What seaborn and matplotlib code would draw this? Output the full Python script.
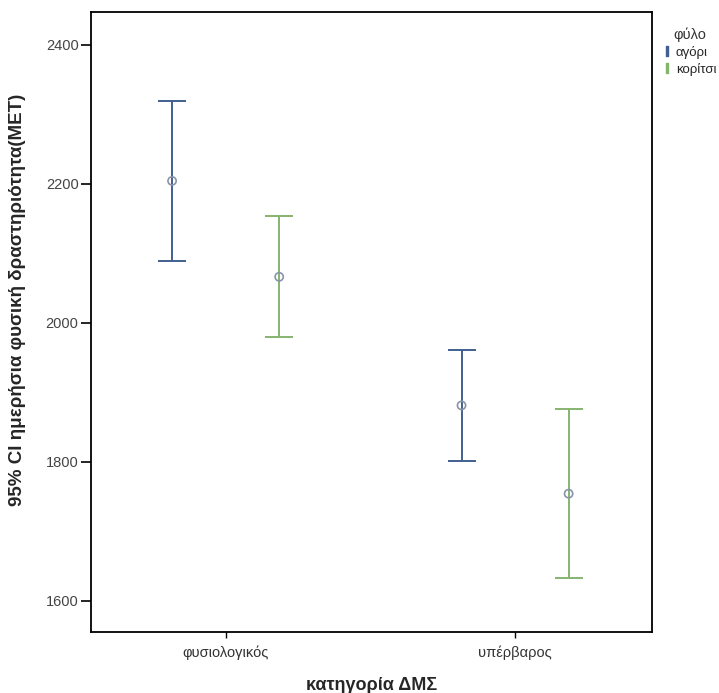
import numpy as np
import pandas as pd
import matplotlib
matplotlib.use("Agg")
import matplotlib.pyplot as plt
from matplotlib.lines import Line2D
import seaborn as sns

# values
categories = ["φυσιολογικός", "υπέρβαρος"]
genders = ["αγόρι", "κορίτσι"]
mean_boy = [2204, 1881]
lower_boy = [2089, 1801]
upper_boy = [2319, 1961]
mean_girl = [2066, 1754]
lower_girl = [1980, 1633]
upper_girl = [2153, 1876]

colors = {"αγόρι": "#41608f", "κορίτσι": "#86b46f"}

sns.set_style("white")
plt.rcParams["font.family"] = ["Liberation Sans", "DejaVu Sans"]

df = pd.DataFrame({
    "cat": categories * 2,
    "sex": [genders[0]] * 2 + [genders[1]] * 2,
    "mean": mean_boy + mean_girl,
    "lo": lower_boy + lower_girl,
    "hi": upper_boy + upper_girl,
})

fig = plt.figure(figsize=(7.19, 6.93), dpi=100)
ax = fig.add_axes([0.1266, 0.088, 0.7802, 0.8947])

offsets = {"αγόρι": -0.185, "κορίτσι": 0.185}
for sex in genders:
    sub = df[df["sex"] == sex]
    x = np.arange(len(categories)) + offsets[sex]
    ax.errorbar(x, sub["mean"], yerr=[sub["mean"] - sub["lo"], sub["hi"] - sub["mean"]],
                fmt="none", ecolor=colors[sex], elinewidth=1.4, capsize=10, capthick=1.4)
    sns.scatterplot(x=x, y=sub["mean"].values, ax=ax, s=35, marker="o",
                    facecolor="none", edgecolor="#8a94a8", linewidth=1.2, zorder=3)

ax.set_xlim(-0.465, 1.473)
ax.set_ylim(1555, 2447)
ax.set_xticks(range(len(categories)))
ax.set_xticklabels(categories, fontsize=10.5, color="#333333")
ax.set_yticks([1600, 1800, 2000, 2200, 2400])
ax.set_yticklabels(["1600", "1800", "2000", "2200", "2400"], fontsize=10.5, color="#444444")
ax.tick_params(axis="y", left=True, length=7, width=1.2, color="black", pad=2)
ax.tick_params(axis="x", bottom=True, length=4, width=1, color="black", pad=6)
for sp in ax.spines.values():
    sp.set_color("black")
    sp.set_linewidth(1.3)

ax.set_xlabel("κατηγορία ΔΜΣ", fontsize=13, fontweight="bold", labelpad=12)
ax.set_ylabel("95% CI ημερήσια φυσική δραστηριότητα(MET)", fontsize=13.5,
              fontweight="bold")
ax.yaxis.set_label_coords(-0.116, 0.535)

handles = [Line2D([], [], linestyle="none", marker="$\\mathrm{I}$", markersize=7,
                  color=colors[g]) for g in genders]
leg = ax.legend(handles, genders, title="φύλο", loc="upper left",
                bbox_to_anchor=(1.005, 0.99), frameon=False, fontsize=9.5,
                title_fontsize=10.5, handlelength=0.5, handletextpad=0.4,
                labelspacing=0.3, borderaxespad=0.3)
leg.get_title().set_color("#333333")

fig.savefig("out.png", dpi=100)
